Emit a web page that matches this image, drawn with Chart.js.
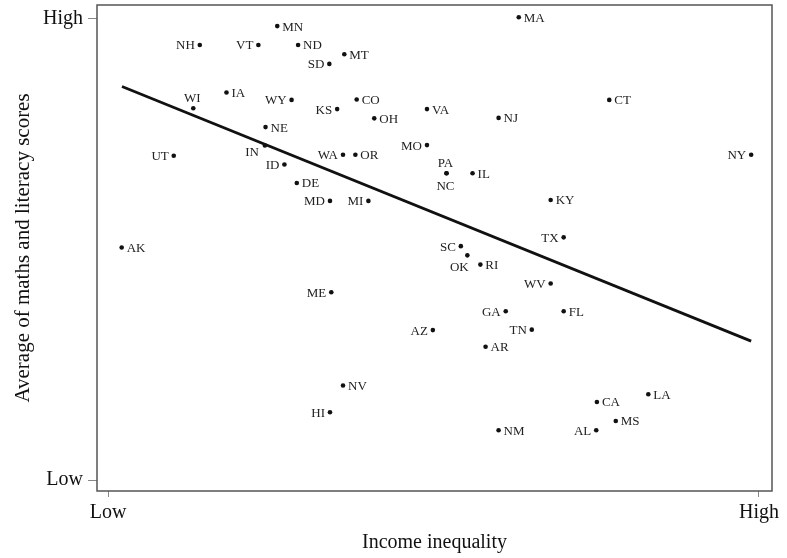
<!DOCTYPE html>
<html>
<head>
<meta charset="utf-8">
<script src="https://cdn.jsdelivr.net/npm/chart.js@4.4.1/dist/chart.umd.min.js"></script>
<style>
  html, body { margin: 0; padding: 0; background: #fff; }
  #wrap { width: 787px; height: 558px; }
</style>
</head>
<body>
<div id="wrap"><canvas id="chart"></canvas></div>
<script>
// states (0 = low, 100 = high)
const states = ['MN', 'NH', 'VT', 'ND', 'MT', 'SD', 'IA', 'WI', 'WY', 'KS',
                'CO', 'OH', 'NE', 'IN', 'UT', 'WA', 'OR', 'MO', 'ID', 'DE',
                'MD', 'MI', 'AK', 'MA', 'CT', 'VA', 'NJ', 'NY', 'PA', 'NC',
                'IL', 'KY', 'TX', 'SC', 'OK', 'RI', 'WV', 'GA', 'FL', 'AZ',
                'TN', 'AR', 'LA', 'CA', 'MS', 'NM', 'AL', 'ME', 'NV', 'HI'];
const inequality = [26.0, 14.1, 23.1, 29.2, 36.3, 34.0, 18.2, 13.1, 28.2, 35.2,
                    38.2, 40.9, 24.2, 24.1, 10.1, 36.1, 38.0, 49.0, 27.1, 29.0,
                    34.1, 40.0, 2.1, 63.1, 77.0, 49.0, 60.0, 98.8, 52.0, 52.0,
                    56.0, 68.0, 70.0, 54.2, 55.2, 57.2, 68.0, 61.1, 70.0, 49.9,
                    65.1, 58.0, 83.0, 75.1, 78.0, 60.0, 75.0, 34.3, 36.1, 34.1];
const scores = [98.4, 94.3, 94.3, 94.3, 92.3, 90.2, 84.0, 80.6, 82.4, 80.4,
                82.5, 78.4, 76.5, 72.5, 70.3, 70.5, 70.5, 72.6, 68.4, 64.4,
                60.5, 60.5, 50.4, 100.3, 82.4, 80.4, 78.5, 70.5, 66.5, 66.5,
                66.5, 60.7, 52.6, 50.7, 48.7, 46.7, 42.6, 36.6, 36.6, 32.5,
                32.6, 28.9, 18.6, 16.9, 12.8, 10.8, 10.8, 40.7, 20.5, 14.7];
// where each name sits next to its dot
const labelSide = ['r', 'l', 'l', 'r', 'r', 'l', 'r', 'a', 'l', 'l',
                   'r', 'r', 'r', 'in', 'l', 'l', 'r', 'l', 'l', 'r',
                   'l', 'l', 'r', 'r', 'r', 'r', 'r', 'l', 'a', 'b',
                   'r', 'r', 'l', 'l', 'bl', 'r', 'l', 'l', 'r', 'l',
                   'l', 'r', 'r', 'r', 'r', 'r', 'l', 'l', 'r', 'l'];

// fitted line, ends
const fitX = [2.15, 98.8];
const fitY = [85.3, 30.1];

const xTickValues = [0, 100];
const xTickLabels = ['Low', 'High'];
const yTickValues = [0, 100];
const yTickLabels = ['Low', 'High'];

const serif = '"Liberation Serif", "Times New Roman", serif';

const framePlugin = {
    id: 'frame',
    afterDraw(chart) {
        const a = chart.chartArea;
        const ctx = chart.ctx;
        ctx.save();
        ctx.strokeStyle = '#555';
        ctx.lineWidth = 1.5;
        ctx.strokeRect(a.left, a.top, a.right - a.left, a.bottom - a.top);
        ctx.restore();
    }
};

const labelPlugin = {
    id: 'stateLabels',
    afterDatasetsDraw(chart) {
        const ctx = chart.ctx;
        const meta = chart.getDatasetMeta(0);
        ctx.save();
        ctx.font = '13px ' + serif;
        ctx.fillStyle = '#222';
        meta.data.forEach((pt, i) => {
            const side = labelSide[i];
            let x = pt.x, y = pt.y;
            if (side === 'r') { ctx.textAlign = 'left'; x += 5; }
            else if (side === 'l') { ctx.textAlign = 'right'; x -= 5; }
            else if (side === 'in') { ctx.textAlign = 'right'; x -= 6; y += 6; }
            else if (side === 'a') { ctx.textAlign = 'center'; x -= 1; y -= 11; }
            else if (side === 'b') { ctx.textAlign = 'center'; x -= 1; y += 12; }
            else if (side === 'bl') { ctx.textAlign = 'center'; x -= 8; y += 11; }
            ctx.textBaseline = 'middle';
            ctx.fillText(states[i], x, y + 1);
        });
        ctx.restore();
    }
};

const ctx = document.getElementById('chart').getContext('2d');
new Chart(ctx, {
    type: 'scatter',
    data: {
        datasets: [
            {
                label: 'States',
                data: states.map((s, i) => ({ x: inequality[i], y: scores[i] })),
                backgroundColor: '#111',
                borderColor: '#111',
                pointRadius: 2.3,
                pointBorderWidth: 0
            },
            {
                type: 'line',
                label: 'Fit',
                data: fitX.map((v, i) => ({ x: v, y: fitY[i] })),
                borderColor: '#111',
                borderWidth: 2.8,
                pointRadius: 0,
                fill: false
            }
        ]
    },
    options: {
        responsive: true,
        maintainAspectRatio: false,
        animation: false,
        layout: { padding: { top: 5, right: 15, left: 0, bottom: 0 } },
        plugins: {
            legend: { display: false },
            tooltip: { enabled: false }
        },
        scales: {
            x: {
                type: 'linear',
                min: -1.69,
                max: 102.0,
                afterBuildTicks: scale => { scale.ticks = xTickValues.map(v => ({ value: v })); },
                afterFit: scale => {
                    scale.height = 67;
                    scale.paddingLeft = 0;
                    scale.paddingRight = 0;
                },
                grid: { drawOnChartArea: false, drawTicks: true, tickLength: 6, color: '#888' },
                border: { display: false },
                ticks: {
                    padding: 4,
                    color: '#111',
                    font: { family: serif, size: 20 },
                    maxRotation: 0,
                    callback: (v, i) => xTickLabels[i]
                },
                title: {
                    display: true,
                    text: 'Income inequality',
                    color: '#111',
                    font: { family: serif, size: 20 },
                    padding: { top: 0, bottom: 3 }
                }
            },
            y: {
                type: 'linear',
                min: -2.38,
                max: 102.97,
                afterBuildTicks: scale => { scale.ticks = yTickValues.map(v => ({ value: v })); },
                afterFit: scale => {
                    scale.width = 97;
                    scale.paddingTop = 0;
                    scale.paddingBottom = 0;
                },
                grid: { drawOnChartArea: false, drawTicks: true, tickLength: 9, color: '#888' },
                border: { display: false },
                ticks: {
                    padding: 5,
                    color: '#111',
                    font: { family: serif, size: 20 },
                    callback: (v, i) => yTickLabels[i]
                },
                title: {
                    display: true,
                    text: 'Average of maths and literacy scores',
                    color: '#111',
                    font: { family: serif, size: 21 },
                    padding: { top: 11, bottom: 0 }
                }
            }
        }
    },
    plugins: [framePlugin, labelPlugin]
});
</script>
</body>
</html>
